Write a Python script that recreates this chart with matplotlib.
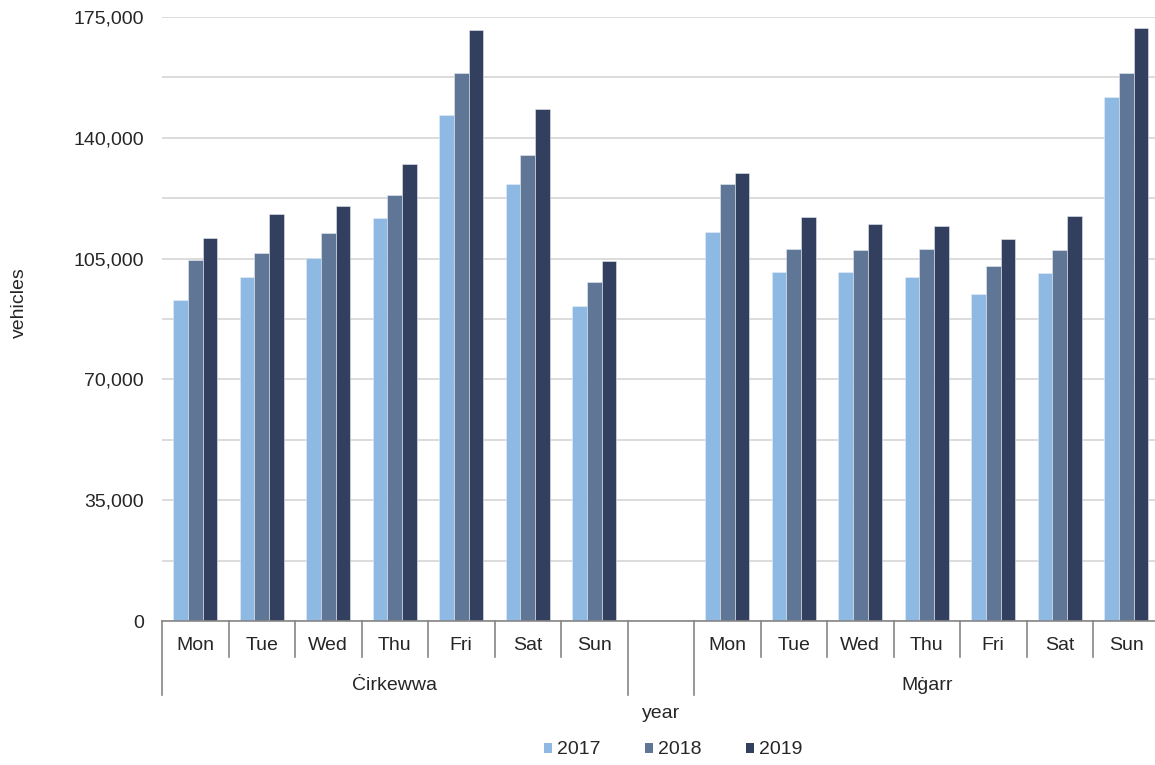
import numpy as np
import matplotlib
matplotlib.use('Agg')
import matplotlib.pyplot as plt
from matplotlib.patches import Patch
from matplotlib.transforms import blended_transform_factory

plt.rcParams['font.family'] = ['Liberation Sans', 'DejaVu Sans']

# data
days = ['Mon', 'Tue', 'Wed', 'Thu', 'Fri', 'Sat', 'Sun']
ports = ['Ċirkewwa', 'Mġarr']
years = ['2017', '2018', '2019']
colors = ['#8DB9E2', '#607696', '#333F5E']

cirkewwa_2017 = [93000, 99700, 105200, 116700, 146700, 126500, 91400]
cirkewwa_2018 = [104700, 106700, 112400, 123400, 158700, 134900, 98300]
cirkewwa_2019 = [110900, 117900, 120200, 132500, 171100, 148300, 104400]

mgarr_2017 = [112800, 101200, 101200, 99700, 94700, 100800, 151700]
mgarr_2018 = [126500, 107900, 107600, 107800, 102800, 107600, 158700]
mgarr_2019 = [129800, 117100, 114900, 114400, 110600, 117200, 171700]

series = [cirkewwa_2017 + [np.nan] + mgarr_2017,
          cirkewwa_2018 + [np.nan] + mgarr_2018,
          cirkewwa_2019 + [np.nan] + mgarr_2019]

text_col = '#262626'
axis_col = '#868686'
fs = 14

fig = plt.figure(figsize=(11.55, 7.65), dpi=100)
# plot area runs a few pixels past the right edge, like the original
ax = fig.add_axes([162 / 1155, 1 - 621 / 765, 997.5 / 1155, 604 / 765])

x = np.arange(15)
bw = 0.22
for i, vals in enumerate(series):
    ax.bar(x + (i - 1) * bw, vals, width=bw, color=colors[i],
           edgecolor='#e6ecf2', linewidth=0.4, zorder=3)

ax.set_xlim(-0.5, 14.5)
ax.set_ylim(0, 175000)
ax.set_yticks(np.arange(0, 175001, 35000))
ax.set_yticks(np.arange(0, 175001, 17500), minor=True)
ax.yaxis.set_major_formatter(matplotlib.ticker.FuncFormatter(lambda v, p: f'{int(v):,}'))
ax.grid(axis='y', which='both', color='#d9d9d9', linewidth=1.3, zorder=0)
ax.tick_params(axis='y', which='both', length=0, pad=13, labelsize=fs, labelcolor=text_col)
ax.set_xticks([])
for s in ['left', 'right', 'top']:
    ax.spines[s].set_visible(False)
ax.spines['bottom'].set_color(axis_col)
ax.spines['bottom'].set_linewidth(1.2)
ax.spines['bottom'].set_zorder(4)

fig.text(19 / 1155, 1 - 303 / 765, 'vehicles', rotation=90, ha='center', va='center',
         fontsize=fs, color=text_col)

# multi-level category axis
tr = blended_transform_factory(ax.transData, ax.transAxes)
h = 604.0
day_bot = -36 / h
grp_bot = -74 / h
for k, port in enumerate(ports):
    start = 0 if k == 0 else 8
    for j, d in enumerate(days):
        ax.text(start + j, -24 / h, d, transform=tr, ha='center', va='center',
                fontsize=fs, color=text_col)
        if j > 0:
            ax.plot([start + j - 0.5] * 2, [0, day_bot], transform=tr,
                    color=axis_col, lw=1.2, clip_on=False)
    ax.text(start + 3, -64 / h, port, transform=tr, ha='center', va='center',
            fontsize=fs, color=text_col)
for gx in [-0.5, 6.5, 7.5]:
    ax.plot([gx, gx], [0, grp_bot], transform=tr, color=axis_col, lw=1.2, clip_on=False)

ax.text(7, -92 / h, 'year', transform=tr, ha='center', va='center',
        fontsize=fs, color=text_col)

handles = [Patch(facecolor=c, edgecolor='none') for c in colors]
fig.legend(handles, years, loc='center', bbox_to_anchor=(673 / 1155, 1 - 750 / 765),
           ncol=3, frameon=False, fontsize=fs, handlelength=0.42, handleheight=0.42,
           handletextpad=0.25, columnspacing=2.3, labelcolor=text_col)

fig.savefig('out.png', dpi=100)
